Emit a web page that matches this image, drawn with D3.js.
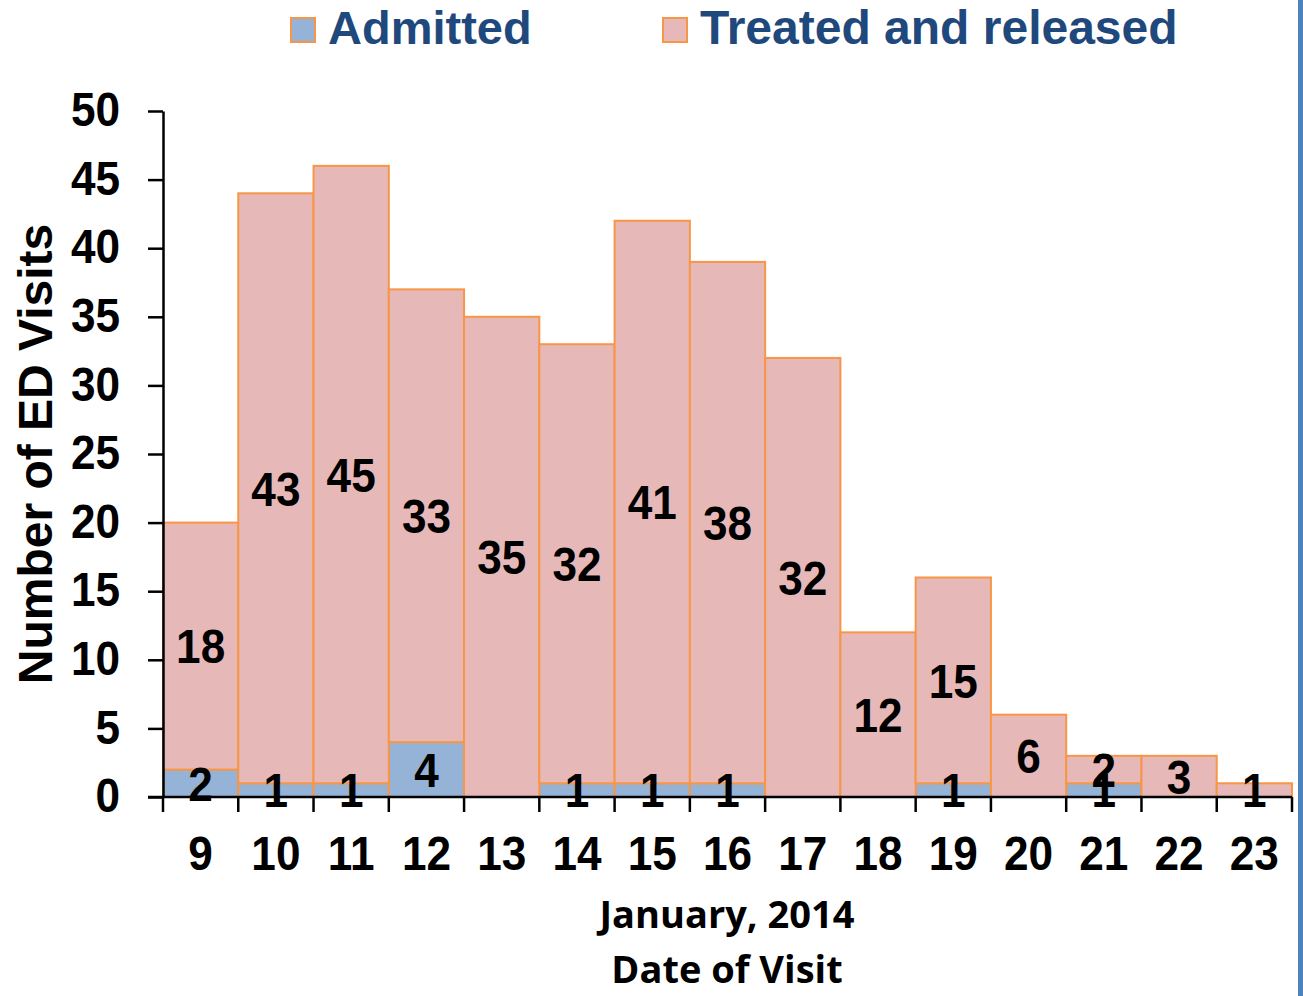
<!DOCTYPE html>
<html><head><meta charset="utf-8">
<script src="https://cdn.jsdelivr.net/npm/d3@7"></script>
<style>body{margin:0;background:#fff;}svg{display:block;}</style>
</head><body>
<script>
const days = ["9","10","11","12","13","14","15","16","17","18","19","20","21","22","23"];
const admitted = [2,1,1,4,0,1,1,1,0,0,1,0,1,0,0];
const treated = [18,43,45,33,35,32,41,38,32,12,15,6,2,3,1];
const yTicks = [0,5,10,15,20,25,30,35,40,45,50];
const seriesNames = ["Admitted","Treated and released"];
const colors = ["#95B3D7","#E6B9B8"];
const stroke = "#F79646";

const W = 1303, H = 996;
const svg = d3.select("body").append("svg").attr("width", W).attr("height", H);

const x = d3.scaleBand().domain(days).range([163, 1292]).paddingInner(0).paddingOuter(0);
const y = d3.scaleLinear().domain([0, 50]).range([797, 111]);

const data = days.map((d, i) => ({day: d, a: admitted[i], t: treated[i]}));
const stack = d3.stack().keys(["a","t"])(data);

// bars
stack.forEach((layer, li) => {
  svg.append("g").selectAll("rect").data(layer.filter(s => s[1] - s[0] > 0)).join("rect")
    .attr("x", s => x(s.data.day))
    .attr("width", x.bandwidth())
    .attr("y", s => y(s[1]))
    .attr("height", s => y(s[0]) - y(s[1]))
    .attr("fill", colors[li])
    .attr("stroke", stroke)
    .attr("stroke-width", 2);
});

const font = "Liberation Sans, Arial, sans-serif";
const NUM = 48, SX = 0.92;

function num(g, tx, ty, txt, anchor) {
  g.append("text")
    .attr("transform", `translate(${tx},${ty}) scale(${SX},1)`)
    .attr("text-anchor", anchor).attr("dy", "0.36em")
    .attr("font-family", font).attr("font-weight", "bold")
    .attr("font-size", NUM).attr("fill", "#000").text(txt);
}

// y axis
const yAxis = svg.append("g").attr("transform", "translate(163,0)")
  .call(d3.axisLeft(y).tickValues(yTicks).tickSize(15).tickFormat("").tickSizeOuter(0));
yAxis.select(".domain").attr("stroke", "#000").attr("stroke-width", 2.5);
yAxis.selectAll(".tick line").attr("stroke", "#000").attr("stroke-width", 2.5);
const yl = svg.append("g");
yTicks.forEach(t => num(yl, 120, y(t) - 2, t, "end"));

// x axis
const xAxisG = svg.append("g").attr("transform", "translate(0,797)");
xAxisG.append("line").attr("x1", 148).attr("x2", x.range()[1]).attr("y1", 0).attr("y2", 0)
  .attr("stroke", "#000").attr("stroke-width", 2.5);
const bounds = days.map(d => x(d)).concat([x.range()[1]]);
xAxisG.selectAll("line.tk").data(bounds).join("line").attr("class","tk")
  .attr("x1", d => d).attr("x2", d => d).attr("y1", 0).attr("y2", 15)
  .attr("stroke", "#000").attr("stroke-width", 2.5);
const xl = svg.append("g");
days.forEach(d => num(xl, x(d) + x.bandwidth()/2, 853, d, "middle"));

// data labels
const lbl = svg.append("g");
stack.forEach(layer => {
  layer.filter(s => s[1] - s[0] > 0).forEach(s => {
    num(lbl, x(s.data.day) + x.bandwidth()/2, y((s[0] + s[1]) / 2), s[1] - s[0], "middle");
  });
});

// y title
svg.append("text").attr("transform", "translate(52,454) rotate(-90)")
  .attr("text-anchor", "middle").attr("font-family", font).attr("font-weight", "bold")
  .attr("font-size", 48).attr("fill", "#000").text("Number of ED Visits");

// x title
const xt = svg.append("text").attr("text-anchor", "middle")
  .attr("font-family", "'Open Sans', Lato, sans-serif").attr("font-weight", "bold")
  .attr("font-size", 38).attr("fill", "#000");
xt.append("tspan").attr("x", 727).attr("y", 928).text("January, 2014");
xt.append("tspan").attr("x", 727).attr("y", 983).text("Date of Visit");

// legend
const leg = svg.append("g");
const legX = [291, 663];
seriesNames.forEach((n, i) => {
  leg.append("rect").attr("x", legX[i]).attr("y", 18).attr("width", 24).attr("height", 24)
    .attr("fill", colors[i]).attr("stroke", stroke).attr("stroke-width", 2);
  leg.append("text").attr("x", legX[i] + 37).attr("y", 44)
    .attr("font-family", font).attr("font-weight", "bold").attr("font-size", i === 0 ? 47 : 48)
    .attr("fill", "#1F497D").text(n);
});

// right border strip
svg.append("rect").attr("x", 1298).attr("y", 0).attr("width", 5).attr("height", H).attr("fill", "#4F81BD");
</script>
</body></html>
